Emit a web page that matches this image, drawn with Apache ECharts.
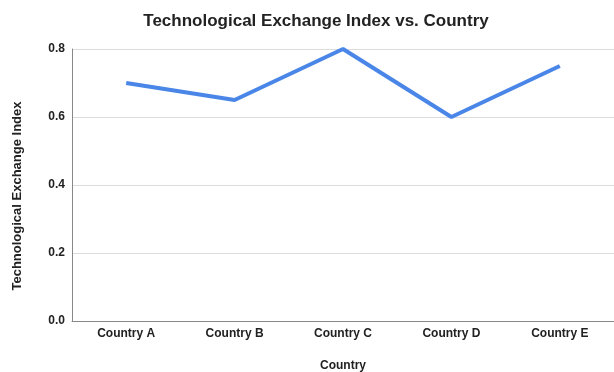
<!DOCTYPE html>
<html>
<head>
<meta charset="utf-8">
<script src="https://cdn.jsdelivr.net/npm/echarts@6/dist/echarts.min.js"></script>
<style>
  html, body { margin: 0; padding: 0; background: #fff; }
  #chart { width: 614px; height: 372px; }
</style>
</head>
<body>
<div id="chart"></div>
<script>
const countries = ['Country A', 'Country B', 'Country C', 'Country D', 'Country E'];
const exchangeIndex = [0.7, 0.65, 0.8, 0.6, 0.75];
const yTicks = { min: 0, max: 0.8, interval: 0.2 };
const chartTitle = 'Technological Exchange Index vs. Country';
const xAxisTitle = 'Country';
const yAxisTitle = 'Technological Exchange Index';

const font = 'Liberation Sans, Arial, sans-serif';
const ink = '#222';

function label(text, x, y, size, rotation) {
  return {
    type: 'text',
    x: x,
    y: y,
    rotation: rotation || 0,
    style: {
      text: text,
      fontFamily: font,
      fontSize: size,
      fontWeight: 'bold',
      fill: ink,
      textAlign: 'center',
      textVerticalAlign: 'middle'
    }
  };
}

const chart = echarts.init(document.getElementById('chart'));
chart.setOption({
  animation: false,
  backgroundColor: '#ffffff',
  graphic: [
    label(chartTitle, 316, 21, 17),
    label(xAxisTitle, 343, 366, 12),
    label(yAxisTitle, 17, 196, 13, Math.PI / 2)
  ],
  grid: { left: 72, top: 49, width: 550, height: 272, containLabel: false },
  xAxis: {
    type: 'category',
    data: countries,
    boundaryGap: true,
    axisLine: { show: true, lineStyle: { color: '#888', width: 1 } },
    axisTick: { show: false },
    axisLabel: { fontFamily: font, fontSize: 12, fontWeight: 'bold', color: ink, margin: 7 },
    splitLine: { show: false }
  },
  yAxis: {
    type: 'value',
    min: yTicks.min,
    max: yTicks.max,
    interval: yTicks.interval,
    axisLine: { show: true, lineStyle: { color: '#888', width: 1 } },
    axisTick: { show: false },
    axisLabel: {
      fontFamily: font, fontSize: 12, fontWeight: 'bold', color: ink, margin: 7,
      formatter: v => v.toFixed(1)
    },
    splitLine: { show: true, lineStyle: { color: '#dcdcdc', width: 1 } }
  },
  series: [{
    type: 'line',
    data: exchangeIndex,
    showSymbol: false,
    symbol: 'none',
    lineStyle: { color: '#4a86e8', width: 4 },
    itemStyle: { color: '#4a86e8' }
  }]
});
</script>
</body>
</html>
